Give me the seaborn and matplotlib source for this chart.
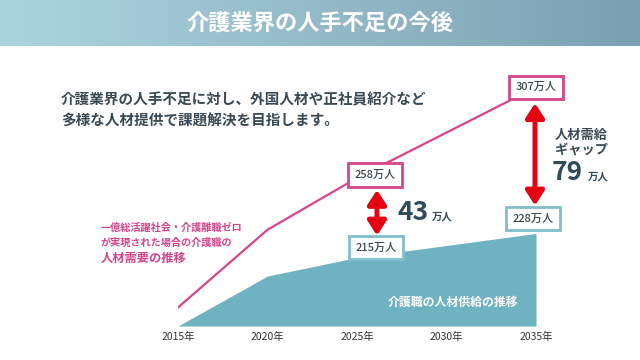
import numpy as np
import pandas as pd
import matplotlib
matplotlib.use("Agg")
import matplotlib.pyplot as plt
import matplotlib.transforms as mtransforms
import seaborn as sns

# ---------------- data ----------------
years = [2015, 2020, 2025, 2035]
demand = [188, 230, 258, 307]     # 人材需要 (万人)
supply = [178, 205, 215, 228]     # 人材供給 (万人)
tick_years = [2015, 2020, 2025, 2030, 2035]
tick_labels = ["2015年", "2020年", "2025年", "2030年", "2035年"]
title = "介護業界の人手不足の今後"
subtitle = ["介護業界の人手不足に対し、外国人材や正社員紹介など",
            "多様な人材提供で課題解決を目指します。"]
demand_label = ["一億総活躍社会・介護離職ゼロ", "が実現された場合の介護職の", "人材需要の推移"]
supply_label = "介護職の人材供給の推移"
unit = "万人"

df = pd.DataFrame({"year": years, "demand": demand, "supply": supply})

# ---------------- style ----------------
sns.set_theme(style="white")
plt.rcParams["font.family"] = ["Noto Sans CJK JP", "DejaVu Sans"]

PINK = "#d6458b"
TEAL = "#6fb3c3"
TEAL_EDGE = "#80c0cc"
DARK = "#3a4a55"
NUM = "#2f4b5a"
RED = "#e50012"

W, H = 640, 360
fig = plt.figure(figsize=(6.4, 3.6), dpi=100)
fig.patch.set_facecolor("white")

def px(x, y):
    return x / W, 1 - y / H

# title bar with gradient
tax = fig.add_axes([0, 1 - 46 / H, 1, 46 / H])
c1 = np.array([172, 212, 222]) / 255
c2 = np.array([124, 160, 178]) / 255
t = np.linspace(0, 1, 256)[None, :, None]
grad = c1[None, None, :] * (1 - t) + c2[None, None, :] * t
tax.imshow(grad, aspect="auto", extent=[0, 1, 0, 1])
tax.set_axis_off()
tax.text(0.5, 0.5, title, color="white", fontsize=16, fontweight="bold",
         ha="center", va="center", transform=tax.transAxes)

# main axes
ymin, ymax = 178, 320
ax = fig.add_axes([178 / W, 34 / H, 358 / W, (ymax - ymin) * 1.851 / H])
ax.set_facecolor("none")
ax.fill_between(df["year"], df["supply"], ymin, color=TEAL, lw=0, zorder=1)
sns.lineplot(data=df, x="year", y="demand", ax=ax, color=PINK, lw=1.6, zorder=2)
ax.set_xlim(2015, 2035)
ax.set_ylim(ymin, ymax)
ax.set_xticks(tick_years)
ax.set_xticklabels(tick_labels, fontsize=7.5, color="#333333")
ax.tick_params(axis="x", length=0, pad=4)
ax.set_yticks([])
ax.set_xlabel("")
ax.set_ylabel("")
for s in ax.spines.values():
    s.set_visible(False)

def box(x, y, val, dx, dy, edge):
    ax.annotate(f"{val}{unit}", xy=(x, y), xycoords="data",
                xytext=(dx, dy), textcoords="offset pixels",
                ha="center", va="center", fontsize=8, color=DARK,
                fontweight="medium",
                bbox=dict(boxstyle="square,pad=0.6", fc="white", ec=edge, lw=2),
                zorder=5, annotation_clip=False)

i25 = years.index(2025)
i35 = years.index(2035)
box(2025, demand[i25], demand[i25], 18, 3, PINK)
box(2035, demand[i35], demand[i35], 0, 0, PINK)
box(2025, supply[i25], supply[i25], 19, 10, TEAL_EDGE)
box(2035, supply[i35], supply[i35], -3, 15, TEAL_EDGE)

def arrow(x, y_top, y_bot, dx, dtop, dbot):
    ttop = mtransforms.offset_copy(ax.transData, fig=fig, x=dx, y=dtop, units="dots")
    tbot = mtransforms.offset_copy(ax.transData, fig=fig, x=dx, y=dbot, units="dots")
    ax.annotate("", xy=(x, y_top), xycoords=ttop, xytext=(x, y_bot), textcoords=tbot,
                arrowprops=dict(arrowstyle="<|-|>,head_length=0.85,head_width=0.55",
                                mutation_scale=10, color=RED, lw=3.6,
                                shrinkA=0, shrinkB=0),
                zorder=6, annotation_clip=False)

arrow(2025, demand[i25], supply[i25], 20, -12, 22)
arrow(2035, demand[i35], supply[i35], -1, -16, 28)

gap25 = demand[i25] - supply[i25]
gap35 = demand[i35] - supply[i35]

# gap labels
fig.text(*px(413, 213), f"{gap25}", fontsize=19, fontweight="bold", color=NUM,
         ha="center", va="center")
fig.text(*px(432, 217), unit, fontsize=7.5, fontweight="bold", color=NUM,
         ha="left", va="center")
fig.text(*px(555, 135), "人材需給", fontsize=9.5, fontweight="bold", color=DARK,
         ha="left", va="center")
fig.text(*px(555, 150), "ギャップ", fontsize=9.5, fontweight="bold", color=DARK,
         ha="left", va="center")
fig.text(*px(567, 172), f"{gap35}", fontsize=19, fontweight="bold", color=NUM,
         ha="center", va="center")
fig.text(*px(588, 177), unit, fontsize=7.5, fontweight="bold", color=NUM,
         ha="left", va="center")

# subtitle
fig.text(*px(61, 99), subtitle[0], fontsize=10.5, fontweight="bold", color=DARK,
         ha="left", va="center")
fig.text(*px(61, 121), subtitle[1], fontsize=10.5, fontweight="bold", color=DARK,
         ha="left", va="center")

# demand label
fig.text(*px(101, 228), demand_label[0], fontsize=7.3, fontweight="bold", color=PINK,
         ha="left", va="center")
fig.text(*px(101, 243), demand_label[1], fontsize=7.3, fontweight="bold", color=PINK,
         ha="left", va="center")
fig.text(*px(101, 258), demand_label[2], fontsize=8.8, fontweight="bold", color=PINK,
         ha="left", va="center")

# supply label
fig.text(*px(453, 302), supply_label, fontsize=8.6, fontweight="bold", color="white",
         ha="center", va="center")

fig.savefig("out.png", dpi=100)
